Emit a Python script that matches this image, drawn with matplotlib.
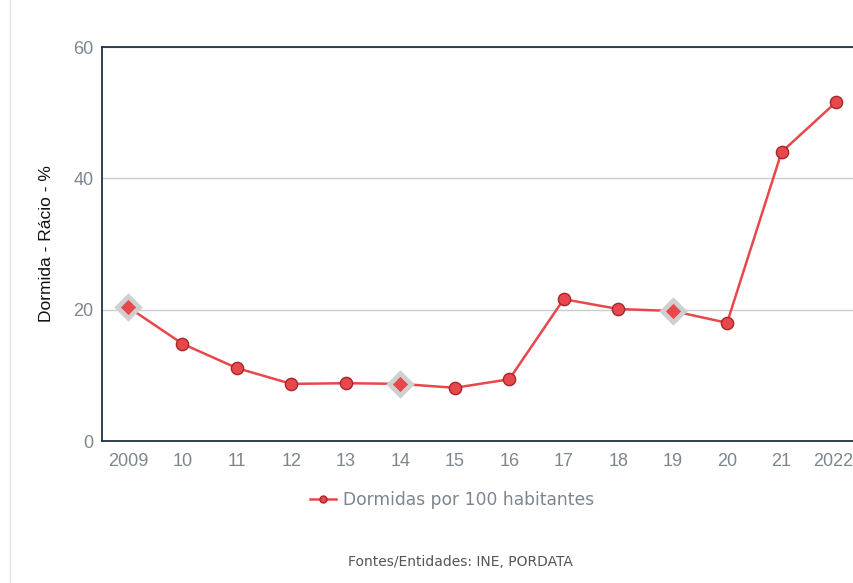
import numpy as np
import matplotlib.pyplot as plt
from matplotlib.lines import Line2D

# dados
anos = ['2009', '10', '11', '12', '13', '14', '15', '16', '17', '18', '19', '20', '21', '2022']
dormidas = [20.4, 14.8, 11.1, 8.7, 8.8, 8.7, 8.1, 9.4, 21.6, 20.1, 19.8, 18.0, 44.0, 51.6]
destaque = [0, 5, 10]  # pontos em losango

red = '#e8474b'
dark = '#a3282c'
grey_txt = '#7d868f'
navy = '#1d3347'

fig = plt.figure(figsize=(8.54, 5.83), dpi=100)
ax = fig.add_axes([102/854, 1-441/583, 752/854, 394/583])

x = np.arange(len(anos))
y = np.array(dormidas)
ax.plot(x, y, color=red, lw=1.8, zorder=3)

circ = [i for i in x if i not in destaque]
ax.scatter(x[circ], y[circ], s=78, color=red, edgecolor=dark, linewidth=1, zorder=4)
ax.scatter(x[destaque], y[destaque], s=210, marker='D', color='#cfcfcf', linewidth=0, zorder=4)
ax.scatter(x[destaque], y[destaque], s=60, marker='D', color=red, linewidth=0, zorder=5)

ax.set_xlim(-0.478, 13.33)
ax.set_ylim(0, 60)
ax.set_yticks([0, 20, 40, 60])
ax.set_xticks(x)
# o ultimo rotulo vai a parte, um pouco para a esquerda (senao fica cortado)
ax.set_xticklabels(anos[:-1] + [''])
ax.annotate(anos[-1], xy=(x[-1], 0), xycoords=('data', 'axes fraction'),
            xytext=(-2.2, -9), textcoords='offset points', ha='center', va='top',
            fontsize=13, color=grey_txt, family='Liberation Sans')
ax.grid(axis='y', color='#cccccc', lw=1)
ax.set_axisbelow(True)

for s in ['left', 'bottom', 'top']:
    ax.spines[s].set_color(navy)
    ax.spines[s].set_linewidth(1.3)
ax.spines['right'].set_visible(False)
ax.tick_params(axis='both', length=0, labelsize=13, labelcolor=grey_txt)
for lab in ax.get_xticklabels() + ax.get_yticklabels():
    lab.set_fontfamily('Liberation Sans')
ax.tick_params(axis='x', pad=9)
ax.tick_params(axis='y', pad=6)
ax.set_ylabel('Dormida - Rácio - %', fontsize=12.5, color='#111111', labelpad=14,
              family='Liberation Sans')

# legenda
h = Line2D([], [], color=red, lw=1.8, marker='o', markersize=5,
           markerfacecolor=red, markeredgecolor=dark)
fig.legend([h], ['Dormidas por 100 habitantes'], loc='center',
           bbox_to_anchor=(452/854, 1-500/583), frameon=False,
           fontsize=12.3, labelcolor=grey_txt, handlelength=1.5, handletextpad=0.4)

fig.text(460/854, 1-562/583, 'Fontes/Entidades: INE, PORDATA', ha='center', va='center',
         fontsize=10, color='#555555')

fig.add_artist(Line2D([10/854, 10/854], [0, 1], color='#e3e3e3', lw=1))

fig.savefig('out.png', dpi=100)
